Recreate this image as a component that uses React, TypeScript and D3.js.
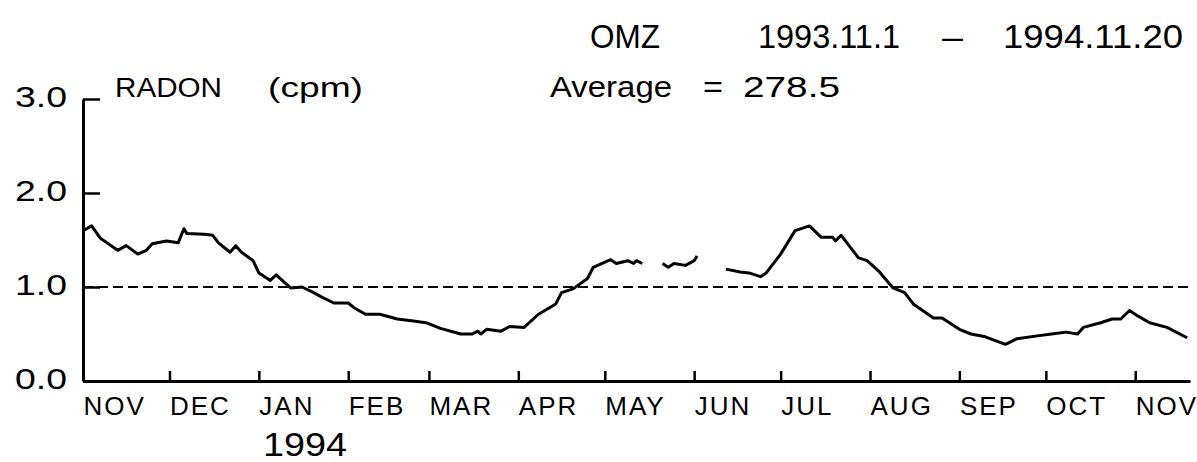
import React, { useEffect, useRef } from 'react';
import * as d3 from 'd3';

const START = new Date(1993, 10, 1);
const END = new Date(1994, 10, 20);

// days after 1993-11-01 and radon relative to the average (1.0 = 278.5 cpm), null = gap
const DAYS = [
  0, 3, 6, 12, 15, 19, 22, 24, 29, 33, 35, 36, 42, 45, 47, 51, 53, 55, 59, 61,
  65, 67, 72, 76, 80, 83, 87, 92, 94, 98, 103, 109, 114, 119, 124, 131, 135, 137, 138, 140,
  145, 148, 153, 158, 164, 166, 170, 175, 177, 183, 185, 189, 191, 192, 194, 197,
  201, 203, 205, 209, 212, 213, 218,
  223, 228, 231, 235, 237, 242, 247, 252, 256, 260, 261, 263, 269, 272, 276, 281, 285, 288,
  295, 298, 304, 308, 313, 320, 324, 331, 336, 341, 345, 347, 353, 357, 360, 363, 366, 370, 376, 383,
];
const RADON = [
  1.6, 1.65, 1.52, 1.39, 1.44, 1.35, 1.39, 1.46, 1.49, 1.47, 1.62, 1.57, 1.56, 1.55, 1.47, 1.37, 1.44, 1.37, 1.28, 1.15,
  1.07, 1.13, 0.99, 1.0, 0.94, 0.89, 0.83, 0.83, 0.78, 0.71, 0.71, 0.66, 0.64, 0.62, 0.56, 0.5, 0.5, 0.53, 0.5, 0.55,
  0.53, 0.58, 0.57, 0.71, 0.82, 0.94, 0.98, 1.09, 1.21, 1.29, 1.25, 1.28, 1.25, 1.28, 1.25, null,
  1.25, 1.21, 1.25, 1.23, 1.28, 1.33, null,
  1.19, 1.16, 1.15, 1.11, 1.15, 1.35, 1.6, 1.65, 1.53, 1.53, 1.49, 1.55, 1.31, 1.28, 1.17, 0.99, 0.94, 0.82,
  0.67, 0.67, 0.55, 0.5, 0.47, 0.39, 0.45, 0.48, 0.5, 0.52, 0.5, 0.57, 0.62, 0.66, 0.66, 0.75, 0.69, 0.62, 0.57, 0.46,
];

const MONTHS = ['NOV', 'DEC', 'JAN', 'FEB', 'MAR', 'APR', 'MAY', 'JUN', 'JUL', 'AUG', 'SEP', 'OCT', 'NOV'];
const Y_TICKS = [0, 1, 2, 3];
const AVERAGE = 1.0;

const W = 1197;
const H = 462;
const FONT = '"Liberation Sans", Arial, sans-serif';

export default function App() {
  const ref = useRef<SVGSVGElement>(null);

  useEffect(() => {
    const svg = d3.select(ref.current);
    svg.selectAll('*').remove();

    const x = d3.scaleTime().domain([START, END]).range([83, 1190]);
    const y = d3.scaleLinear().domain([0, 3]).range([381, 99]);

    const data = DAYS.map((d, i) => ({ date: d3.timeDay.offset(START, d), v: RADON[i] }));
    const months = d3.timeMonth.range(START, END);

    // x axis, ticks pointing up, labels starting at the tick
    const xAxis = svg.append('g')
      .attr('transform', `translate(0,${y(0)})`)
      .call(d3.axisBottom(x).tickValues(months).tickSize(-10).tickSizeOuter(0)
        .tickFormat((d, i) => MONTHS[i]));
    xAxis.select('.domain').attr('stroke-width', 3);
    xAxis.selectAll('.tick line').attr('stroke-width', 2.5);
    xAxis.selectAll('.tick text')
      .attr('y', 34).attr('dy', 0)
      .attr('text-anchor', 'start')
      .attr('font-size', 26)
      .attr('letter-spacing', 2)
      .attr('font-family', FONT)
      .attr('fill', '#000');

    // y axis, ticks pointing right
    const yAxis = svg.append('g')
      .attr('transform', `translate(${x(START)},0)`)
      .call(d3.axisLeft(y).tickValues(Y_TICKS).tickSize(-17).tickSizeOuter(0).tickPadding(16)
        .tickFormat(d3.format('.1f')));
    yAxis.select('.domain').attr('stroke-width', 3);
    yAxis.selectAll('.tick line').attr('stroke-width', 2.5);
    yAxis.selectAll('.tick text')
      .attr('dy', 7)
      .attr('font-size', 30)
      .attr('font-family', FONT)
      .attr('textLength', 52)
      .attr('lengthAdjust', 'spacingAndGlyphs')
      .attr('fill', '#000');

    // average line
    svg.append('line')
      .attr('x1', x(START)).attr('x2', x(END))
      .attr('y1', y(AVERAGE)).attr('y2', y(AVERAGE))
      .attr('stroke', '#000').attr('stroke-width', 2)
      .attr('stroke-dasharray', '10,5');

    const line = d3.line<{ date: Date; v: number | null }>()
      .defined(d => d.v != null)
      .x(d => x(d.date))
      .y(d => y(d.v as number));

    svg.append('path')
      .datum(data)
      .attr('d', line)
      .attr('fill', 'none')
      .attr('stroke', '#000')
      .attr('stroke-width', 3)
      .attr('stroke-linejoin', 'round');

    const label = (t: string, lx: number, ly: number, size: number, len: number) =>
      svg.append('text')
        .attr('x', lx).attr('y', ly)
        .attr('font-family', FONT)
        .attr('font-size', size)
        .attr('textLength', len)
        .attr('lengthAdjust', 'spacingAndGlyphs')
        .attr('fill', '#000')
        .text(t);

    label('1994', 263, 456, 34, 84);
    label('RADON', 115, 97, 27, 107);
    label('(cpm)', 268, 97, 27, 95);
    label('OMZ', 590, 48, 34, 70);
    label('1993.11.1', 758, 48, 34, 142);
    label('\u2013', 942, 48, 34, 21);
    label('1994.11.20', 1003, 48, 34, 180);
    label('Average', 550, 97, 30, 122);
    label('=', 703, 97, 30, 20);
    label('278.5', 743, 97, 30, 97);
  }, []);

  return (
    <svg ref={ref} width={W} height={H}
      style={{ position: 'absolute', left: 0, top: 0, background: '#fff' }} />
  );
}
